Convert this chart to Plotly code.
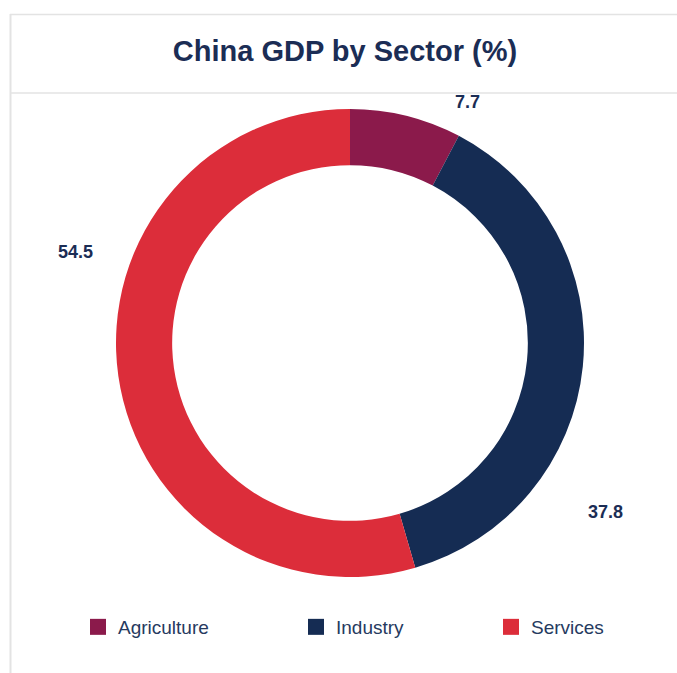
import plotly.graph_objects as go

# Data
sectors = ["Agriculture", "Industry", "Services"]
shares = [7.7, 37.8, 54.5]
colors = ["#8b1a4b", "#152c53", "#dc2d3a"]

W, H = 677, 673
NAVY = "#1b2d55"
FONT = "Liberation Sans, Arial, sans-serif"

def px(x):
    return x / W

def py(y):
    return 1 - y / H

# pie geometry (pixels)
cx, cy, R = 350, 343, 234

fig = go.Figure()
fig.add_trace(go.Pie(
    labels=sectors,
    values=shares,
    marker=dict(colors=colors, line=dict(width=0)),
    hole=0.76,
    sort=False,
    direction="clockwise",
    rotation=0,
    textinfo="none",
    hoverinfo="label+value",
    domain=dict(x=[px(cx - R), px(cx + R)], y=[py(cy + R), py(cy - R)]),
    showlegend=False,
))

# legend entries (one legend box per sector, spaced like the original)
legend_names = ["legend", "legend2", "legend3"]
legend_x = [78, 296, 491]
legend_layout = {}
for name, col, lg, lx in zip(sectors, colors, legend_names, legend_x):
    fig.add_trace(go.Scatter(
        x=[None], y=[None], mode="markers", name=name,
        marker=dict(symbol="square", size=16, color=col),
        legend=lg, showlegend=True, hoverinfo="skip",
    ))
    legend_layout[lg] = dict(
        orientation="h", x=px(lx), xanchor="left",
        y=py(627), yanchor="middle",
        font=dict(family=FONT, size=19, color="#263a60"),
        bgcolor="rgba(0,0,0,0)",
        itemclick=False, itemdoubleclick=False,
    )

# value labels placed outside the ring
label_pos = [(468, 102), (605, 512), (75, 252)]
for v, (lx, ly) in zip(shares, label_pos):
    fig.add_annotation(
        x=px(lx), y=py(ly), xref="paper", yref="paper",
        text=f"<b>{v}</b>", showarrow=False,
        font=dict(family=FONT, size=18, color=NAVY),
        xanchor="center", yanchor="middle",
    )

border = "#e3e3e3"
shapes = [
    dict(type="line", xref="paper", yref="paper", x0=px(10.5), x1=px(10.5), y0=py(14), y1=0,
         line=dict(color=border, width=2)),
    dict(type="line", xref="paper", yref="paper", x0=px(10), x1=1, y0=py(14.5), y1=py(14.5),
         line=dict(color=border, width=1.5)),
    dict(type="line", xref="paper", yref="paper", x0=px(10), x1=1, y0=py(93), y1=py(93),
         line=dict(color=border, width=1.5)),
]

fig.update_layout(
    width=W, height=H,
    margin=dict(l=0, r=0, t=0, b=0),
    paper_bgcolor="white",
    plot_bgcolor="white",
    shapes=shapes,
    xaxis=dict(visible=False),
    yaxis=dict(visible=False),
    title=dict(
        text="<b>China GDP by Sector (%)</b>",
        x=px(345), xanchor="center",
        y=py(51), yanchor="middle",
        font=dict(family=FONT, size=29, color=NAVY),
    ),
    **legend_layout,
)

fig.write_html("out.html")
